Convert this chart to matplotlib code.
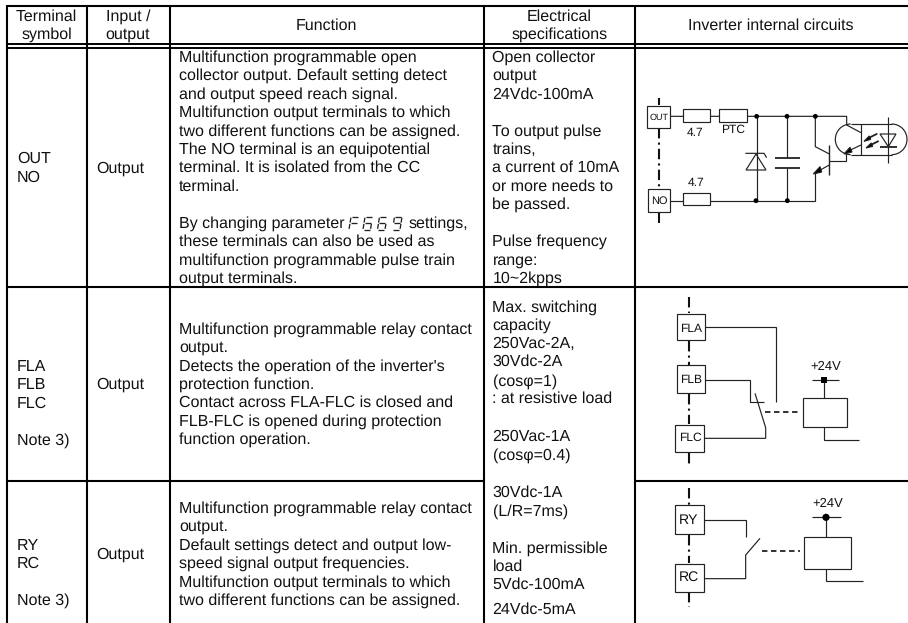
import matplotlib
matplotlib.use("Agg")
import matplotlib.pyplot as plt
from matplotlib.patches import Rectangle, Arc, Polygon, Circle

plt.rcParams['font.family'] = ['Liberation Sans', 'DejaVu Sans']
plt.rcParams['text.hinting'] = 'none'
plt.rcParams['text.hinting_factor'] = 1
FS = 11.2
PITCH = 18.42
INK = '#111111'

HEAD_TERMINAL = ["Terminal", "symbol"]
HEAD_IO = ["Input /", "output"]
HEAD_FUNCTION = ["Function"]
HEAD_ELEC = ["Electrical", "specifications"]
HEAD_CIRCUIT = ["Inverter internal circuits"]

ROW1_TERMINAL = ["OUT", "NO"]
ROW2_TERMINAL = ["FLA", "FLB", "FLC", "", "Note 3)"]
ROW3_TERMINAL = ["RY", "RC", "", "Note 3)"]
IO_LABEL = "Output"

ROW1_FUNCTION = [
    "Multifunction programmable open",
    "collector output. Default setting detect",
    "and output speed reach signal.",
    "Multifunction output terminals to which",
    "two different functions can be assigned.",
    "The NO terminal is an equipotential",
    "terminal. It is isolated from the CC",
    "terminal.",
    "",
    "By changing parameter",
    "these terminals can also be used as",
    "multifunction programmable pulse train",
    "output terminals.",
]
PARAM_TAIL = "settings,"
ROW2_FUNCTION = [
    "Multifunction programmable relay contact",
    "output.",
    "Detects the operation of the inverter's",
    "protection function.",
    "Contact across FLA-FLC is closed and",
    "FLB-FLC is opened during protection",
    "function operation.",
]
ROW3_FUNCTION = [
    "Multifunction programmable relay contact",
    "output.",
    "Default settings detect and output low-",
    "speed signal output frequencies.",
    "Multifunction output terminals to which",
    "two different functions can be assigned.",
]
ROW1_ELEC = [
    "Open collector", "output", "24Vdc-100mA", "",
    "To output pulse", "trains,", "a current of 10mA",
    "or more needs to", "be passed.", "",
    "Pulse frequency", "range:", "10~2kpps",
]
ROW23_ELEC = [
    "Max. switching", "capacity", "250Vac-2A,", "30Vdc-2A",
    "(cos\u03c6=1)", ": at resistive load", "250Vac-1A", "(cos\u03c6=0.4)",
    "30Vdc-1A", "(L/R=7ms)", "Min. permissible", "load",
    "5Vdc-100mA", "24Vdc-5mA",
]
ROW23_ELEC_Y = [307, 325, 343, 361, 381, 398, 436, 455, 492, 511, 548, 566, 584, 609]

fig = plt.figure(figsize=(9.08, 6.23), dpi=100)
ax = fig.add_axes([0, 0, 1, 1])
ax.set_xlim(0, 908)
ax.set_ylim(623, 0)
ax.axis('off')


def t(x, yc, s, ha='left', fs=FS):
    ax.text(x, yc + 4.6, s, ha=ha, va='baseline', fontsize=fs, color=INK)


def block(x, y0, lines, ha='left'):
    for i, s in enumerate(lines):
        if s:
            t(x, y0 + i * PITCH, s, ha)


# table grid
for x in [7, 86.5, 169.5, 484, 635]:
    ax.plot([x, x], [6, 623], color='k', lw=1.5, solid_capstyle='butt')
for y, w in [(6, 1.5), (43.5, 1.4), (47.5, 1.4), (287, 1.5)]:
    ax.plot([6, 908], [y, y], color='k', lw=w, solid_capstyle='butt')
ax.plot([6, 484], [481, 481], color='k', lw=1.5, solid_capstyle='butt')
ax.plot([635, 908], [481, 481], color='k', lw=1.5, solid_capstyle='butt')

# headers
block(46.5, 16, HEAD_TERMINAL, 'center')
block(128, 16, HEAD_IO, 'center')
block(326, 25, HEAD_FUNCTION, 'center')
block(559.5, 16, HEAD_ELEC, 'center')
block(771, 25, HEAD_CIRCUIT, 'center')

# body
block(17, 158.5, ROW1_TERMINAL)
block(17, 366, ROW2_TERMINAL)
block(17, 545, ROW3_TERMINAL)
t(96.5, 168, IO_LABEL)
t(96.5, 384, IO_LABEL)
t(96.5, 554, IO_LABEL)
block(179, 57, ROW1_FUNCTION)
t(409, 57 + 9 * PITCH, PARAM_TAIL)
block(179, 329, ROW2_FUNCTION)
block(179, 508, ROW3_FUNCTION)
block(492.5, 57, ROW1_ELEC)
for s, y in zip(ROW23_ELEC, ROW23_ELEC_Y):
    t(492.5, y, s)

# seven-segment parameter code F 6 6 9
SEG = {'F': 'aefg', '6': 'acdefg', '9': 'abcdfg'}
GLYPHS = ["F", "6", "6", "9"]
def seven(x, ch):
    w, h, sl, top = 7.5, 12.5, 2.0, 217
    def P(u, v):
        return (x + u * w + sl * (1 - v), top + v * h)
    pts = {'a': ((0.1, 0), (.9, 0)), 'b': ((1, .05), (1, .45)), 'c': ((1, .55), (1, .95)),
           'd': ((0.1, 1), (.9, 1)), 'e': ((0, .55), (0, .95)), 'f': ((0, .05), (0, .45)),
           'g': ((0.1, .5), (.9, .5))}
    for s in SEG[ch]:
        (a, b), (c, d) = pts[s]
        p, q = P(a, b), P(c, d)
        ax.plot([p[0], q[0]], [p[1], q[1]], color='#222222', lw=0.95, solid_capstyle='butt')
for gx, g in zip([349, 363, 377.5, 392.5], GLYPHS):
    seven(gx, g)

# circuit drawing helpers (coordinates in 3x local units)
LW = 0.85
COL = '#222222'
class D:
    def __init__(self, ox, oy):
        self.ox, self.oy = ox, oy
    def p(self, x, y):
        return (self.ox + x / 3, self.oy + y / 3)
    def line(self, *pts, lw=LW, ls='-', color=COL):
        xy = [self.p(*q) for q in pts]
        ax.plot([a for a, _ in xy], [b for _, b in xy], color=color, lw=lw, ls=ls,
                solid_capstyle='butt', solid_joinstyle='miter', dash_capstyle='butt')
    def box(self, x0, y0, x1, y1, lw=LW):
        a = self.p(x0, y0)
        ax.add_patch(Rectangle(a, (x1 - x0) / 3, (y1 - y0) / 3, fc='white', ec=COL, lw=lw, zorder=3))
    def dot(self, x, y, r=2.4):
        ax.add_patch(Circle(self.p(x, y), r, fc='k', ec='k', lw=0, zorder=4))
    def poly(self, pts, fill=False):
        ax.add_patch(Polygon([self.p(*q) for q in pts], closed=True,
                             fc='k' if fill else 'none', ec=COL, lw=LW, zorder=4))
    def text(self, x, y, s, fs):
        a = self.p(x, y)
        ax.text(a[0], a[1], s, fontsize=fs, ha='center', va='center', color=INK, zorder=5)
    def chain(self, x, *spans):
        # terminal dash-dot rail
        for y0, y1 in spans:
            self.line((x, y0), (x, y1), lw=1.5, ls=(0, (5, 2, 1, 2)), color='#111111')


# --- row 1 circuit
d = D(640, 50)
d.chain(58, (143, 165), (235, 415), (490, 520))
d.box(20, 167, 91, 233)
d.box(23, 416, 91, 487)
d.text(56, 202, "OUT", 6.5)
d.text(57, 453, "NO", 7.6)
d.line((91, 199), (620, 199), (620, 225), (663, 248))
d.box(130, 178, 210, 215)
d.box(238, 178, 320, 215)
d.text(166, 248, "4.7", 8.3)
d.text(278, 239, "PTC", 8.3)
d.text(168, 398, "4.7", 8.3)
d.line((91, 452), (526, 452), (526, 368))
d.box(130, 428, 210, 466)
d.line((350, 199), (350, 452))
d.poly([(348, 312), (318, 360), (378, 360)])
d.line((316, 310), (372, 310), (380, 323))
d.line((441, 199), (441, 325))
d.line((405, 325), (480, 325), lw=1.3)
d.line((405, 355), (480, 355), lw=1.3)
d.line((441, 355), (441, 452))
d.line((526, 199), (526, 290), (568, 312))
d.line((568, 285), (568, 375), lw=1.0)
d.line((568, 345), (530, 366))
d.poly([(520, 372), (540, 350), (545, 366)], fill=True)
d.line((568, 333), (618, 333), (618, 308))
for x, y in [(350, 199), (441, 199), (526, 199), (348, 452), (442, 452)]:
    d.dot(x, y)
# opto coupler housing
c1 = d.p(632, 268); c2 = d.p(755, 268)
ax.add_patch(Arc(c1, 92 / 3, 92 / 3, theta1=90, theta2=270, ec=COL, lw=LW))
ax.add_patch(Arc(c2, 92 / 3, 92 / 3, theta1=270, theta2=90, ec=COL, lw=LW))
d.line((632, 222), (755, 222))
d.line((632, 314), (755, 314))
d.line((663, 222), (663, 314))
d.line((663, 285), (625, 303))
d.poly([(612, 312), (630, 292), (636, 306)], fill=True)
d.line((712, 251), (686, 264), lw=1.3)
d.poly([(672, 274), (688, 258), (692, 268)], fill=True)
d.line((716, 273), (692, 285), lw=1.3)
d.poly([(678, 294), (694, 279), (698, 289)], fill=True)
d.poly([(720, 252), (768, 252), (745, 290)])
d.line((720, 291), (770, 291), lw=1.3)
d.line((745, 202), (745, 340))

# --- row 2 circuit
d = D(640, 275)
d.chain(148, (65, 115), (198, 270), (357, 448), (534, 575))
d.box(110, 116, 196, 196)
d.box(110, 271, 196, 355)
d.box(106, 449, 192, 532)
d.text(153, 161, "FLA", 8.3)
d.text(153, 316, "FLB", 8.3)
d.text(150, 489, "FLC", 8.5)
d.line((196, 157), (408, 157), (408, 382))
d.line((196, 315), (331, 315), (331, 381), (373, 381))
d.line((345, 355), (377, 458), (377, 490), (192, 490))
d.line((375, 411), (480, 411), lw=1.3, ls=(0, (3, 2)))
d.box(489, 370, 622, 456)
d.line((553, 370), (553, 315))
d.line((515, 314), (597, 314))
a = d.p(553, 314)
ax.add_patch(Rectangle((a[0] - 3, a[1] - 3), 6, 6, fc='k', ec='k', lw=0, zorder=4))
d.text(557, 275, "+24V", 9.6)
d.line((553, 456), (553, 495), (657, 495))

# --- row 3 circuit
d = D(640, 275)
d.chain(148, (640, 690), (780, 865), (952, 995))
d.box(104, 691, 192, 778)
d.box(104, 866, 192, 950)
d.text(147, 736, "RY", 9.9)
d.text(147, 908, "RC", 9.9)
d.line((192, 734), (317, 734), (317, 787))
d.line((192, 911), (317, 911), (317, 840), (360, 790))
d.line((365, 827), (480, 827), lw=1.3, ls=(0, (3, 2)))
d.box(491, 786, 632, 881)
d.line((558, 786), (558, 727))
d.line((515, 727), (602, 727))
d.dot(558, 727, 3.6)
d.text(563, 685, "+24V", 9.6)
d.line((558, 881), (558, 919), (669, 919))

fig.savefig("out.png", dpi=100)
